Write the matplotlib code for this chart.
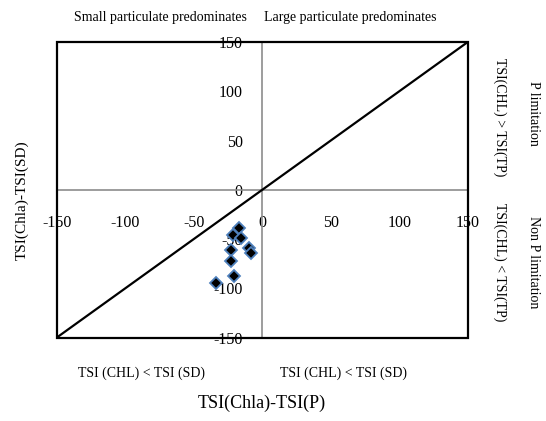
import numpy as np
import matplotlib
matplotlib.use('Agg')
import matplotlib.pyplot as plt
from matplotlib.patches import Rectangle

plt.rcParams['font.family'] = ['Liberation Serif', 'DejaVu Serif']

# TSI(Chla)-TSI(P) vs TSI(Chla)-TSI(SD)
x_vals = [-16.7, -21.1, -15.7, -23.0, -9.4, -8.4, -23.0, -20.6, -33.4]
y_vals = [-38.5, -46.3, -48.6, -60.8, -58.8, -63.9, -71.7, -87.0, -94.1]
ticks = [-150, -100, -50, 0, 50, 100, 150]
tick_labels = ['-150', '-100', '-50', '0', '50', '100', '150']
ref_line = [-150, 150]

fig = plt.figure(figsize=(5.46, 4.21), dpi=100)
ax = fig.add_axes([0.1038, 0.198, 0.7527, 0.702])

ax.set_xlim(-150, 150)
ax.set_ylim(-150, 150)

# crosshair through the origin carries the tick labels
for s in ['left', 'bottom']:
    ax.spines[s].set_position(('data', 0))
    ax.spines[s].set_color('#8c8c8c')
    ax.spines[s].set_linewidth(1.2)
for s in ['top', 'right']:
    ax.spines[s].set_visible(False)
ax.add_patch(Rectangle((0, 0), 1, 1, transform=ax.transAxes, fill=False,
                       ec='black', lw=1.6, zorder=5, clip_on=False))

ax.set_xticks(ticks)
ax.set_xticklabels(tick_labels)
ax.set_yticks(ticks)
ax.set_yticklabels(tick_labels)
ax.tick_params(axis='x', length=0, pad=18, labelsize=11.5)
ax.tick_params(axis='y', length=0, pad=14, labelsize=11.5)

ax.plot(ref_line, ref_line, color='black', lw=1.6, zorder=3)
ax.plot(x_vals, y_vals, linestyle='none', marker='D', markersize=6,
        markerfacecolor='black', markeredgecolor='#4f81bd', markeredgewidth=1.3,
        zorder=4)

fig.text(160 / 546, 1 - 18 / 421, 'Small particulate predominates',
         ha='center', va='center', fontsize=10)
fig.text(350 / 546, 1 - 17 / 421, 'Large particulate predominates',
         ha='center', va='center', fontsize=10)
fig.text(141 / 546, 1 - 373 / 421, 'TSI (CHL) < TSI (SD)',
         ha='center', va='center', fontsize=10)
fig.text(343 / 546, 1 - 373 / 421, 'TSI (CHL) < TSI (SD)',
         ha='center', va='center', fontsize=10)
fig.text(262 / 546, 1 - 403 / 421, 'TSI(Chla)-TSI(P)',
         ha='center', va='center', fontsize=13)
fig.text(22 / 546, 1 - 200 / 421, 'TSI(Chla)-TSI(SD)', rotation=90,
         ha='center', va='center', fontsize=11)
fig.text(500 / 546, 1 - 117 / 421, 'TSI(CHL) > TSI(TP)', rotation=270,
         ha='center', va='center', fontsize=10)
fig.text(533 / 546, 1 - 113 / 421, 'P limitation', rotation=270,
         ha='center', va='center', fontsize=10)
fig.text(500 / 546, 1 - 262 / 421, 'TSI(CHL) < TSI(TP)', rotation=270,
         ha='center', va='center', fontsize=10)
fig.text(533 / 546, 1 - 262 / 421, 'Non P limitation', rotation=270,
         ha='center', va='center', fontsize=10)

fig.savefig('out.png', dpi=100)
